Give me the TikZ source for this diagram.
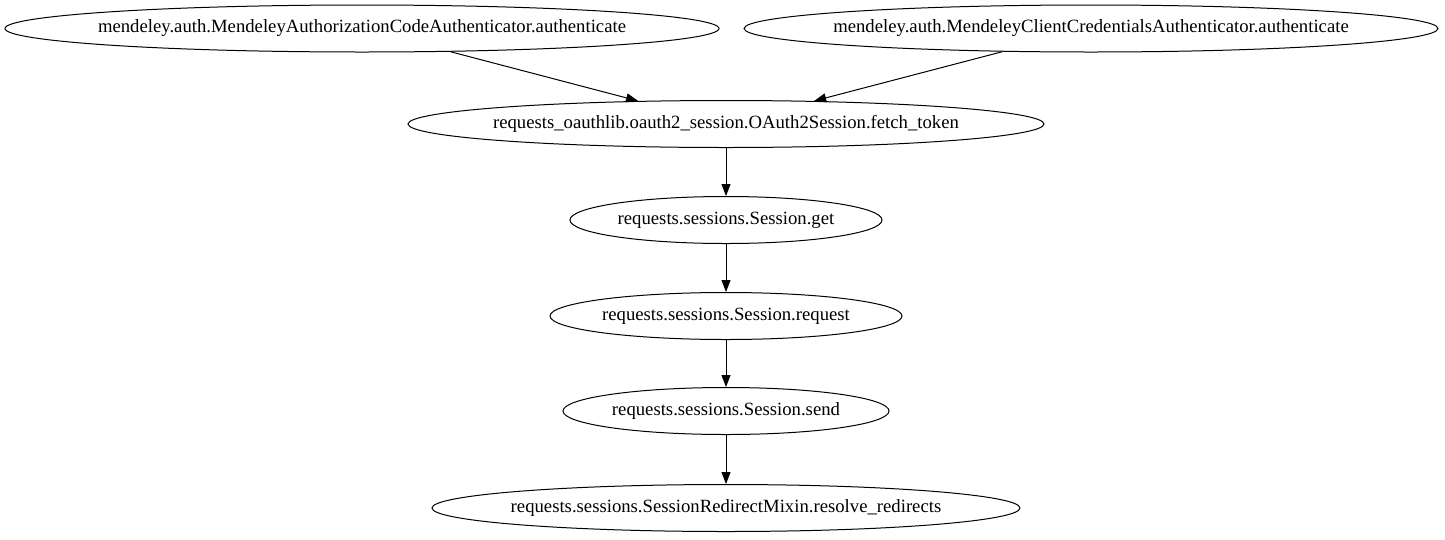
\documentclass[tikz,border=0pt]{standalone}
\usepackage{fontspec}
\setmainfont{Liberation Serif}
\usetikzlibrary{arrows.meta,shapes.geometric}
\newcommand{\lbl}[1]{\raisebox{-1.5pt}{\makebox[0pt]{#1}}}
\begin{document}
\begin{tikzpicture}[x=1pt,y=-1pt,
  fn/.style={draw,line width=1pt,ellipse,inner sep=0pt,minimum height=47pt,font=\fontsize{18.7}{20}\selectfont},
  edge/.style={draw,line width=1pt,-{Triangle[length=12pt,width=9pt]}}]
\useasboundingbox (0,0) rectangle (1445,539);
\node[fn,minimum width=714pt] (a) at (362,28.5) {\lbl{mendeley.auth.MendeleyAuthorizationCodeAuthenticator.authenticate}};
\node[fn,minimum width=694pt] (b) at (1091,28.5) {\lbl{mendeley.auth.MendeleyClientCredentialsAuthenticator.authenticate}};
\node[fn,minimum width=636pt] (c) at (726,124) {\lbl{requests\_oauthlib.oauth2\_session.OAuth2Session.fetch\_token}};
\node[fn,minimum width=312pt] (d) at (726,220) {\lbl{requests.sessions.Session.get}};
\node[fn,minimum width=352pt] (e) at (726,316) {\lbl{requests.sessions.Session.request}};
\node[fn,minimum width=326pt] (f) at (726,411) {\lbl{requests.sessions.Session.send}};
\node[fn,minimum width=588pt] (g) at (726,508) {\lbl{requests.sessions.SessionRedirectMixin.resolve\_redirects}};
\draw[edge] (a) -- (c);
\draw[edge] (b) -- (c);
\draw[edge] (c) -- (d);
\draw[edge] (d) -- (e);
\draw[edge] (e) -- (f);
\draw[edge] (f) -- (g);
\end{tikzpicture}
\end{document}
